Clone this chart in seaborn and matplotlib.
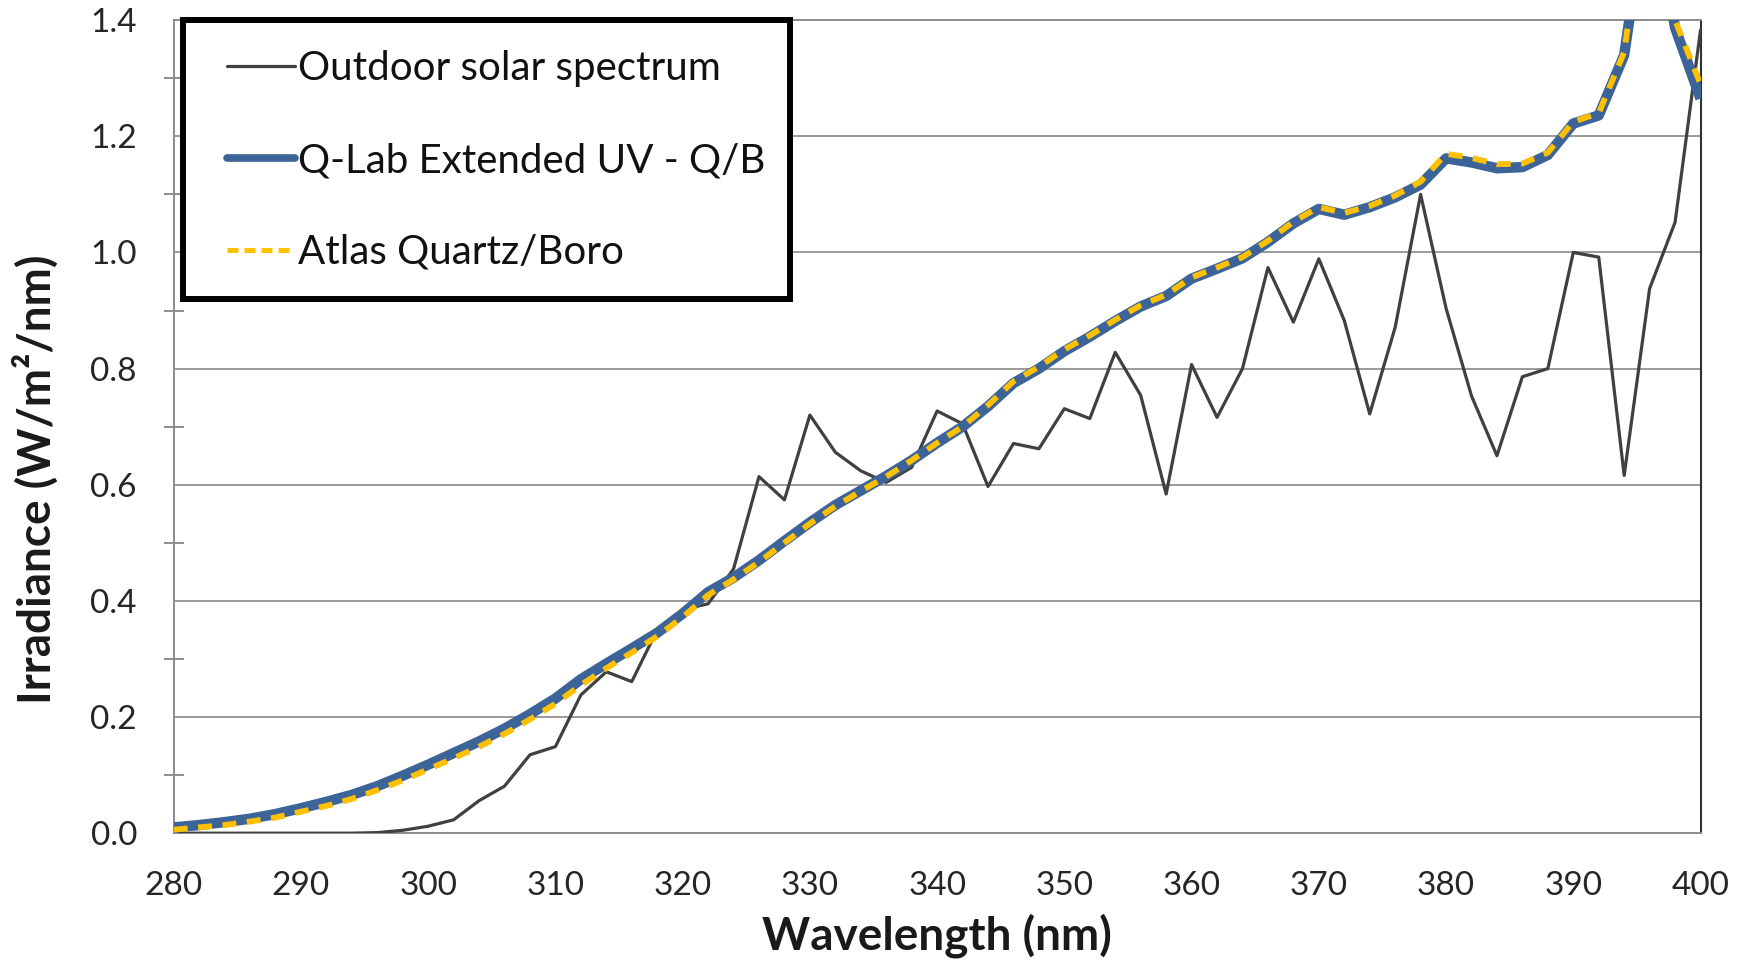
import numpy as np
import pandas as pd
import matplotlib
matplotlib.use("Agg")
import matplotlib.pyplot as plt
import seaborn as sns
from matplotlib.ticker import MultipleLocator, FormatStrFormatter
from matplotlib.lines import Line2D
from matplotlib.patches import Rectangle

# ---- data ----
wavelength = list(range(280, 401, 2))

outdoor = [0.000, 0.000, 0.000, 0.000, 0.000, 0.000, 0.000, 0.000, 0.001, 0.005,
           0.012, 0.023, 0.056, 0.081, 0.135, 0.149, 0.238, 0.278, 0.261, 0.350,
           0.385, 0.395, 0.455, 0.614, 0.574, 0.720, 0.656, 0.624, 0.604, 0.630,
           0.727, 0.705, 0.597, 0.671, 0.662, 0.731, 0.714, 0.828, 0.754, 0.584,
           0.807, 0.716, 0.800, 0.974, 0.880, 0.989, 0.883, 0.722, 0.871, 1.100,
           0.904, 0.753, 0.650, 0.786, 0.800, 1.000, 0.992, 0.616, 0.938, 1.052,
           1.383]

qlab = [0.010, 0.014, 0.019, 0.025, 0.033, 0.043, 0.054, 0.066, 0.081, 0.099,
        0.118, 0.138, 0.158, 0.180, 0.205, 0.232, 0.265, 0.292, 0.318, 0.345,
        0.378, 0.415, 0.440, 0.470, 0.503, 0.535, 0.565, 0.590, 0.615, 0.642,
        0.672, 0.700, 0.735, 0.775, 0.800, 0.830, 0.855, 0.882, 0.907, 0.925,
        0.955, 0.972, 0.990, 1.018, 1.050, 1.075, 1.065, 1.078, 1.095, 1.117,
        1.162, 1.155, 1.145, 1.147, 1.168, 1.222, 1.236, 1.340, 1.640, 1.387,
        1.265]

atlas = [0.006, 0.010, 0.014, 0.020, 0.027, 0.037, 0.047, 0.059, 0.074, 0.091,
         0.110, 0.129, 0.149, 0.171, 0.196, 0.223, 0.255, 0.284, 0.311, 0.339,
         0.372, 0.410, 0.437, 0.467, 0.500, 0.533, 0.563, 0.589, 0.614, 0.642,
         0.672, 0.700, 0.737, 0.778, 0.803, 0.833, 0.857, 0.884, 0.909, 0.927,
         0.957, 0.974, 0.992, 1.020, 1.053, 1.078, 1.068, 1.080, 1.098, 1.122,
         1.170, 1.163, 1.152, 1.153, 1.172, 1.225, 1.240, 1.345, 1.660, 1.400,
         1.290]

series_names = ["Outdoor solar spectrum", "Q-Lab Extended UV - Q/B", "Atlas Quartz/Boro"]
x_ticks = list(range(280, 401, 10))

df = pd.DataFrame({"wavelength": wavelength, "outdoor": outdoor,
                   "qlab": qlab, "atlas": atlas})

# ---- style ----
sns.set_theme(style="white")
plt.rcParams["font.family"] = ["Lato", "DejaVu Sans"]

fig = plt.figure(figsize=(17.37, 9.61), dpi=100)
ax = fig.add_axes([0.100, 0.133, 0.879, 0.846])

c_out = "#404040"
c_q = "#3C6499"
c_a = "#FFC000"

sns.lineplot(data=df, x="wavelength", y="outdoor", ax=ax, color=c_out, lw=2.3, zorder=3)
sns.lineplot(data=df, x="wavelength", y="qlab", ax=ax, color=c_q, lw=7.5, zorder=4,
             solid_capstyle="butt")
sns.lineplot(data=df, x="wavelength", y="atlas", ax=ax, color=c_a, lw=4.2, zorder=5,
             dashes=False, linestyle=(0, (2.4, 1.8)))

ax.set_xlim(280, 400)
ax.set_ylim(0, 1.4)
ax.set_xticks(x_ticks)
ax.yaxis.set_major_locator(MultipleLocator(0.2))
ax.yaxis.set_minor_locator(MultipleLocator(0.1))
ax.yaxis.set_major_formatter(FormatStrFormatter("%.1f"))

ax.grid(axis="y", which="major", color="#9a9a9a", lw=1.4)
ax.grid(axis="x", visible=False)

for s in ["left", "bottom", "top"]:
    ax.spines[s].set_color("#8c8c8c")
    ax.spines[s].set_linewidth(1.4)
ax.spines["right"].set_color("#303030")
ax.spines["right"].set_linewidth(1.5)

ax.tick_params(axis="both", which="major", direction="out", length=9.5, width=1.4,
               color="#8c8c8c", labelsize=24, labelcolor="#262626")
ax.tick_params(axis="x", which="major", pad=18)
ax.tick_params(axis="y", which="major", pad=17)
ax.tick_params(axis="y", which="minor", direction="inout", length=15, width=1.4,
               color="#8c8c8c", left=True)

ax.set_xlabel("Wavelength (nm)", fontsize=33, fontweight="bold", color="#1a1a1a")
ax.set_ylabel("Irradiance (W/m²/nm)", fontsize=33, fontweight="bold", color="#1a1a1a")
ax.xaxis.set_label_coords(0.5, -0.099)
ax.yaxis.set_label_coords(-0.075, 0.435)

# legend frame (Excel-style thick black box)
frame = Rectangle((0.0059, 0.657), 0.398, 0.343, transform=ax.transAxes,
                  facecolor="white", edgecolor="black", lw=4.3, zorder=9,
                  clip_on=False)
ax.add_patch(frame)

handles = [Line2D([], [], color=c_out, lw=2.3),
           Line2D([], [], color=c_q, lw=5.5),
           Line2D([], [], color=c_a, lw=3.6, linestyle=(0, (2.2, 1.2)))]
leg = ax.legend(handles, series_names, loc="upper left",
                bbox_to_anchor=(0.0347, 0.963), frameon=False,
                fontsize=29, handlelength=1.7, handletextpad=0.08,
                labelspacing=1.36, borderpad=0, borderaxespad=0)
for t in leg.get_texts():
    t.set_color("#111111")
leg.set_zorder(10)

fig.savefig("out.png", dpi=100)
